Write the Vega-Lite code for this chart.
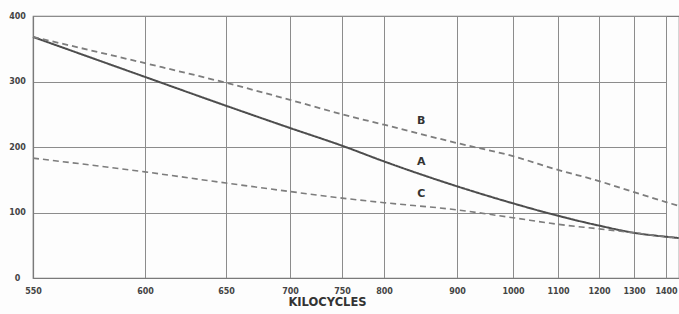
{
  "$schema": "https://vega.github.io/schema/vega-lite/v6.json",
  "width": 646,
  "height": 262,
  "autosize": {"type": "none"},
  "padding": {"left": 33, "top": 16, "right": 0, "bottom": 36},
  "background": "#fdfdfd",
  "config": {
    "view": {"stroke": "#7a7a7a", "strokeWidth": 1.2},
    "axis": {
      "labelFont": "DejaVu Sans",
      "labelFontWeight": "bold",
      "labelFontSize": 8,
      "labelColor": "#444",
      "gridColor": "#8c8c8c",
      "gridWidth": 1,
      "gridOpacity": 1,
      "domainColor": "#7a7a7a",
      "domainWidth": 1.2,
      "ticks": false,
      "labelOverlap": false,
      "labelFlush": false
    }
  },
  "datasets": {
    "curves": [
      {"kc": 550, "v": 368, "s": "A"},
      {"kc": 600, "v": 307, "s": "A"},
      {"kc": 650, "v": 263, "s": "A"},
      {"kc": 700, "v": 229, "s": "A"},
      {"kc": 750, "v": 202, "s": "A"},
      {"kc": 800, "v": 178, "s": "A"},
      {"kc": 900, "v": 140, "s": "A"},
      {"kc": 1000, "v": 114, "s": "A"},
      {"kc": 1100, "v": 95, "s": "A"},
      {"kc": 1200, "v": 80, "s": "A"},
      {"kc": 1300, "v": 69, "s": "A"},
      {"kc": 1400, "v": 63, "s": "A"},
      {"kc": 1440, "v": 61, "s": "A"},
      {"kc": 550, "v": 368, "s": "B"},
      {"kc": 600, "v": 328, "s": "B"},
      {"kc": 650, "v": 298, "s": "B"},
      {"kc": 700, "v": 272, "s": "B"},
      {"kc": 750, "v": 250, "s": "B"},
      {"kc": 800, "v": 234, "s": "B"},
      {"kc": 900, "v": 206, "s": "B"},
      {"kc": 1000, "v": 186, "s": "B"},
      {"kc": 1100, "v": 165, "s": "B"},
      {"kc": 1200, "v": 148, "s": "B"},
      {"kc": 1300, "v": 131, "s": "B"},
      {"kc": 1400, "v": 116, "s": "B"},
      {"kc": 1440, "v": 110, "s": "B"},
      {"kc": 550, "v": 183, "s": "C"},
      {"kc": 600, "v": 162, "s": "C"},
      {"kc": 650, "v": 145, "s": "C"},
      {"kc": 700, "v": 132, "s": "C"},
      {"kc": 750, "v": 122, "s": "C"},
      {"kc": 800, "v": 115, "s": "C"},
      {"kc": 900, "v": 104, "s": "C"},
      {"kc": 1000, "v": 92, "s": "C"},
      {"kc": 1100, "v": 82, "s": "C"},
      {"kc": 1200, "v": 75, "s": "C"},
      {"kc": 1300, "v": 69, "s": "C"},
      {"kc": 1400, "v": 63, "s": "C"},
      {"kc": 1440, "v": 61, "s": "C"}
    ],
    "labels": [
      {"kc": 851, "v": 240, "t": "B"},
      {"kc": 851, "v": 177, "t": "A"},
      {"kc": 851, "v": 128, "t": "C"}
    ]
  },
  "layer": [
    {
      "data": {"name": "curves"},
      "mark": {"type": "line", "interpolate": "monotone"},
      "encoding": {
        "x": {
          "field": "kc",
          "type": "quantitative",
          "scale": {
            "domain": [550, 600, 650, 700, 750, 800, 900, 1000, 1100, 1200, 1300, 1400],
            "range": [0, 112, 193, 257, 309, 351, 424, 480, 525, 566, 601, 633],
            "nice": false,
            "zero": false
          },
          "axis": {
            "values": [550, 600, 650, 700, 750, 800, 900, 1000, 1100, 1200, 1300, 1400],
            "format": "d",
            "labelPadding": 9,
            "title": "KILOCYCLES",
            "titleFont": "DejaVu Sans",
            "titleFontWeight": "bold",
            "titleFontSize": 11.5,
            "titleColor": "#333",
            "titleX": 294,
            "titleY": 24,
            "titleBaseline": "middle"
          }
        },
        "y": {
          "field": "v",
          "type": "quantitative",
          "scale": {"domain": [0, 400], "nice": false},
          "axis": {
            "values": [0, 100, 200, 300, 400],
            "labelAlign": "center",
            "labelPadding": 16,
            "title": null
          }
        },
        "color": {
          "field": "s",
          "type": "nominal",
          "scale": {"domain": ["A", "B", "C"], "range": ["#4d4d4d", "#7d7d7d", "#7d7d7d"]},
          "legend": null
        },
        "strokeDash": {
          "field": "s",
          "type": "nominal",
          "scale": {"domain": ["A", "B", "C"], "range": [[1, 0], [6, 4], [6, 4]]},
          "legend": null
        },
        "strokeWidth": {
          "field": "s",
          "type": "nominal",
          "scale": {"domain": ["A", "B", "C"], "range": [2, 1.6, 1.6]},
          "legend": null
        }
      }
    },
    {
      "data": {"name": "labels"},
      "mark": {"type": "text", "font": "DejaVu Sans", "fontWeight": "bold", "fontSize": 11, "color": "#333"},
      "encoding": {
        "x": {"field": "kc", "type": "quantitative"},
        "y": {"field": "v", "type": "quantitative"},
        "text": {"field": "t"}
      }
    }
  ]
}
